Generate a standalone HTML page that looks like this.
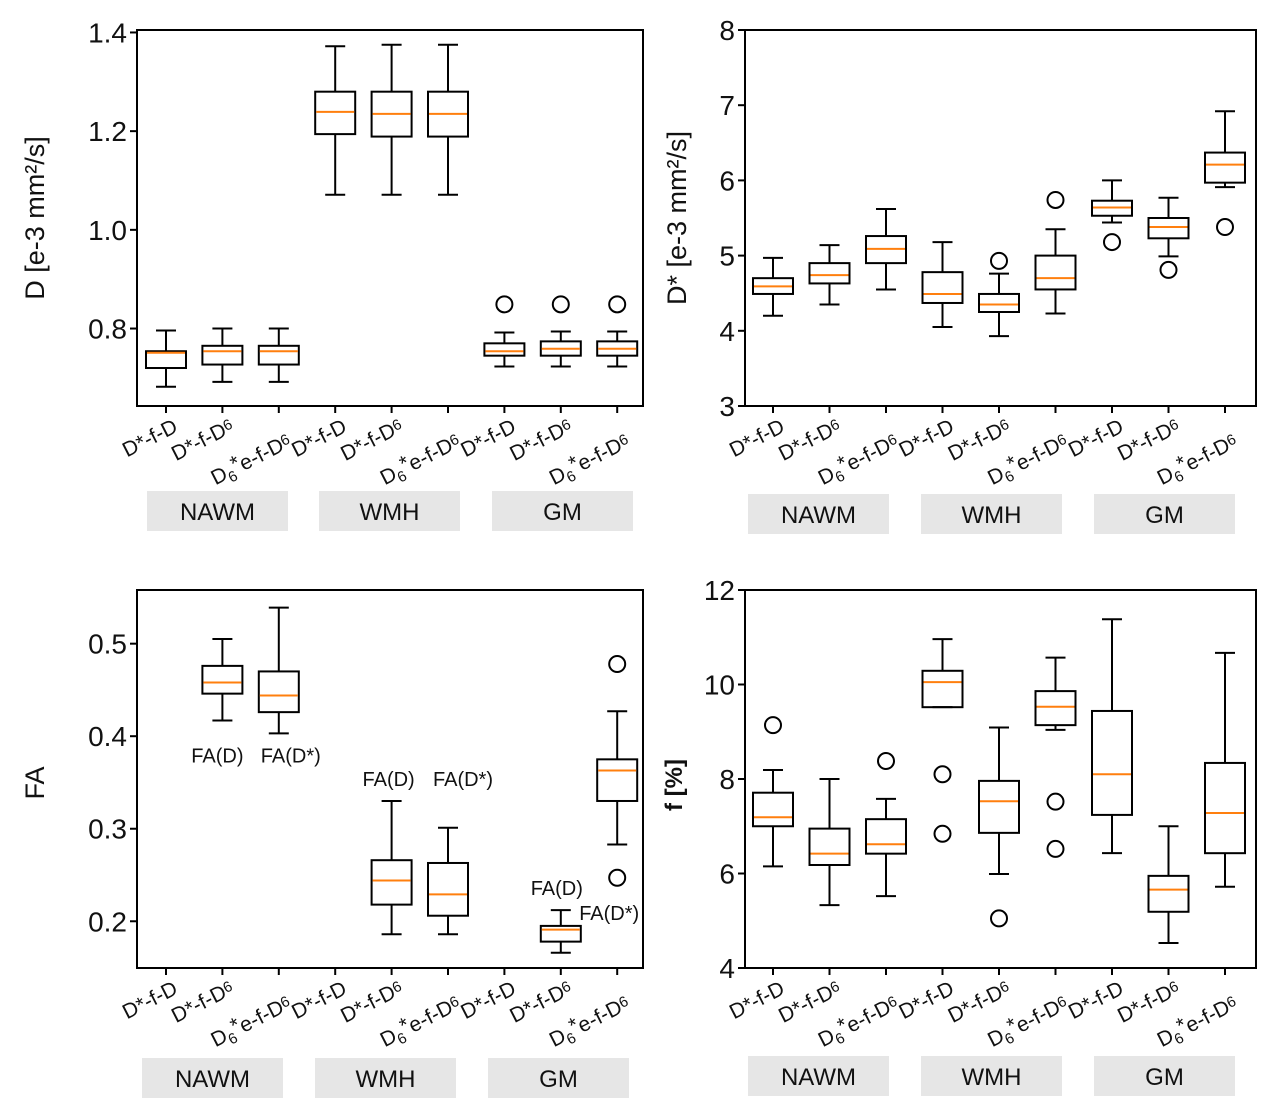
<!DOCTYPE html>
<html><head><meta charset="utf-8"><style>
html,body{margin:0;padding:0;background:#fff;}
svg{display:block;font-family:"Liberation Sans",sans-serif;}
</style></head><body>
<svg id="fig" width="1288" height="1113" viewBox="0 0 1288 1113" xmlns="http://www.w3.org/2000/svg"></svg>
<script>
const categories = ["D*-f-D","D*-f-D6","D6*e-f-D6","D*-f-D","D*-f-D6","D6*e-f-D6","D*-f-D","D*-f-D6","D6*e-f-D6"];
const groups = ["NAWM","WMH","GM"];
// Panel A: D
const dTicks = [0.8,1.0,1.2,1.4];
const dLow = [0.682,0.692,0.692,1.071,1.071,1.071,0.723,0.723,0.723];
const dQ1 = [0.720,0.727,0.727,1.194,1.189,1.189,0.745,0.745,0.745];
const dMed = [0.751,0.754,0.754,1.239,1.235,1.235,0.754,0.759,0.759];
const dQ3 = [0.754,0.765,0.765,1.280,1.280,1.280,0.770,0.774,0.774];
const dHigh = [0.796,0.800,0.800,1.372,1.375,1.375,0.792,0.794,0.794];
const dOut = [[],[],[],[],[],[],[0.849],[0.849],[0.849]];
// Panel B: D*
const dsTicks = [3,4,5,6,7,8];
const dsLow = [4.20,4.35,4.55,4.05,3.93,4.23,5.44,4.99,5.91];
const dsQ1 = [4.49,4.63,4.90,4.37,4.25,4.55,5.53,5.23,5.97];
const dsMed = [4.59,4.74,5.09,4.49,4.35,4.70,5.64,5.38,6.21];
const dsQ3 = [4.70,4.90,5.26,4.78,4.49,5.00,5.73,5.50,6.37];
const dsHigh = [4.97,5.14,5.62,5.18,4.76,5.35,6.00,5.77,6.92];
const dsOut = [[],[],[],[],[4.93],[5.74],[5.18],[4.81],[5.38]];
// Panel C: FA (null = no box)
const faTicks = [0.2,0.3,0.4,0.5];
const faLow = [null,0.417,0.403,null,0.186,0.186,null,0.166,0.283];
const faQ1 = [null,0.446,0.426,null,0.218,0.206,null,0.178,0.330];
const faMed = [null,0.458,0.444,null,0.244,0.229,null,0.191,0.363];
const faQ3 = [null,0.476,0.470,null,0.266,0.263,null,0.195,0.375];
const faHigh = [null,0.505,0.539,null,0.330,0.301,null,0.212,0.427];
const faOut = [[],[],[],[],[],[],[],[],[0.478,0.247]];
const faNotes = [["FA(D)",1,0.379,-5],["FA(D*)",2,0.379,12],["FA(D)",4,0.354,-3],["FA(D*)",5,0.354,15],["FA(D)",7,0.236,-4],["FA(D*)",8,0.209,-8]];
// Panel D: f
const fTicks = [4,6,8,10,12];
const fLow = [6.15,5.33,5.52,9.52,5.99,9.04,6.43,4.53,5.72];
const fQ1 = [7.00,6.18,6.42,9.52,6.86,9.14,7.24,5.19,6.43];
const fMed = [7.19,6.42,6.62,10.05,7.53,9.53,8.10,5.66,7.28];
const fQ3 = [7.71,6.95,7.15,10.29,7.96,9.86,9.44,5.95,8.34];
const fHigh = [8.19,8.00,7.58,10.96,9.09,10.57,11.38,7.00,10.67];
const fOut = [[9.14],[],[8.38],[8.10,6.84],[5.05],[7.52,6.52],[],[],[]];

const NS="http://www.w3.org/2000/svg";
const svg=document.getElementById('fig');
function mk(tag,attrs,parent){const e=document.createElementNS(NS,tag);for(const k in attrs)e.setAttribute(k,attrs[k]);(parent||svg).appendChild(e);return e;}

function panel(cfg){
  const g=mk('g',{});
  
  
  const L=cfg.x0,R=cfg.x1,T=cfg.y0,B=cfg.y1;
  const y=v=>B-(v-cfg.vmin)/(cfg.vmax-cfg.vmin)*(B-T);
  const x=i=>L+cfg.first+i*cfg.step;
  cfg.ticks.forEach(t=>{
    const ln=mk('line',{x1:L-7,x2:L,y1:y(t),y2:y(t),stroke:'#000','stroke-width':2},g);
    
    
    const tx=mk('text',{x:L-10,y:y(t)+10,'text-anchor':'end','font-size':28,fill:'#111'},g);
    tx.textContent=cfg.fmt(t);
    
    
  });
  const yt=mk('text',{transform:`translate(${cfg.tx},${cfg.ty}) rotate(-90)`,'text-anchor':'middle','font-size':cfg.tsize||27,'font-weight':cfg.bold?'bold':'normal',fill:'#111'},g);
  yt.textContent=cfg.title;
  
  
  const bw=40,cw=20;
  for(let i=0;i<9;i++){
    const cx=x(i);
    const tk=mk('line',{x1:cx,x2:cx,y1:B,y2:B+7,stroke:'#000','stroke-width':2},g);
    
    
    const lab=categories[i];
    const lt=mk('text',{transform:`translate(${cx+13},${B+25}) rotate(-27)`,'text-anchor':'end','font-size':21,fill:'#111'},g);
    
    
    if(lab==="D*-f-D"){lt.textContent="D*-f-D";}
    else if(lab==="D*-f-D6"){
      const a=mk('tspan',{},lt);a.textContent="D*-f-D";
      const b=mk('tspan',{'font-size':15,dy:-4},lt);b.textContent="6";
    } else {
      lt.setAttribute('transform',`translate(${cx+14},${B+40}) rotate(-27)`);
      const a=mk('tspan',{},lt);a.textContent="D";
      const b=mk('tspan',{'font-size':15,dy:5},lt);b.textContent="6";
      const c=mk('tspan',{dy:-9},lt);c.textContent="*";
      const d=mk('tspan',{dy:4},lt);d.textContent="e-f-D";
      const e=mk('tspan',{'font-size':15,dy:-4},lt);e.textContent="6";
    }
    if(cfg.lo[i]===null) continue;
    const bg=mk('g',{},g);
    
    
    const st={stroke:'#000','stroke-width':2,fill:'none'};
    mk('line',Object.assign({x1:cx,x2:cx,y1:y(cfg.hi[i]),y2:y(cfg.q3[i])},st),bg);
    mk('line',Object.assign({x1:cx,x2:cx,y1:y(cfg.q1[i]),y2:y(cfg.lo[i])},st),bg);
    mk('line',Object.assign({x1:cx-cw/2,x2:cx+cw/2,y1:y(cfg.hi[i]),y2:y(cfg.hi[i])},st),bg);
    mk('line',Object.assign({x1:cx-cw/2,x2:cx+cw/2,y1:y(cfg.lo[i]),y2:y(cfg.lo[i])},st),bg);
    mk('rect',Object.assign({x:cx-bw/2,y:y(cfg.q3[i]),width:bw,height:Math.max(0,y(cfg.q1[i])-y(cfg.q3[i]))},st),bg);
    mk('line',{x1:cx-bw/2+1,x2:cx+bw/2-1,y1:y(cfg.med[i]),y2:y(cfg.med[i]),stroke:'#ff7f0e','stroke-width':2},bg);
    cfg.out[i].forEach(o=>{
      const c=mk('circle',{cx:cx,cy:y(o),r:8,fill:'none',stroke:'#000','stroke-width':2},bg);
      
      
    });
  }
  (cfg.notes||[]).forEach(n=>{
    const t=mk('text',{x:x(n[1])+n[3],y:y(n[2])+7,'text-anchor':'middle','font-size':20,fill:'#111'},g);
    t.textContent=n[0];
    
    
  });
  const fr=mk('rect',{x:L,y:T,width:R-L,height:B-T,fill:'none',stroke:'#000','stroke-width':2},g);
  
  
  cfg.gx.forEach((gx,k)=>{
    const r=mk('rect',{x:gx,y:cfg.gy,width:141,height:40,fill:'#e6e6e6'},g);
    
    
    const t=mk('text',{x:gx+70.5,y:cfg.gy+29,'text-anchor':'middle','font-size':24,fill:'#111'},g);
    t.textContent=groups[k];
    
    
  });
}
const f1=v=>v.toFixed(1), f0=v=>String(v);
panel({name:'panel-d',x0:137,x1:643,y0:30,y1:406,vmin:0.643,vmax:1.405,first:29,step:56.4,ticks:dTicks,fmt:f1,title:'D [e-3 mm²/s]',tx:44,ty:218,
  lo:dLow,q1:dQ1,med:dMed,q3:dQ3,hi:dHigh,out:dOut,gx:[147,319,492],gy:491});
panel({name:'panel-dstar',x0:745,x1:1256,y0:30,y1:406,vmin:3,vmax:8,first:28,step:56.5,ticks:dsTicks,fmt:f0,title:'D* [e-3 mm²/s]',tx:686,ty:218,
  lo:dsLow,q1:dsQ1,med:dsMed,q3:dsQ3,hi:dsHigh,out:dsOut,gx:[748,921,1094],gy:494});
panel({name:'panel-fa',x0:137,x1:643,y0:590,y1:968,vmin:0.1495,vmax:0.558,first:29,step:56.4,ticks:faTicks,fmt:f1,title:'FA',tx:44,ty:783,
  lo:faLow,q1:faQ1,med:faMed,q3:faQ3,hi:faHigh,out:faOut,notes:faNotes,gx:[142,315,488],gy:1058});
panel({name:'panel-f',x0:745,x1:1256,y0:590,y1:968,vmin:4,vmax:12,first:28,step:56.5,ticks:fTicks,fmt:f0,title:'f [%]',tx:682,ty:785,bold:true,tsize:24,
  lo:fLow,q1:fQ1,med:fMed,q3:fQ3,hi:fHigh,out:fOut,gx:[748,921,1094],gy:1056});
</script>
</body></html>
